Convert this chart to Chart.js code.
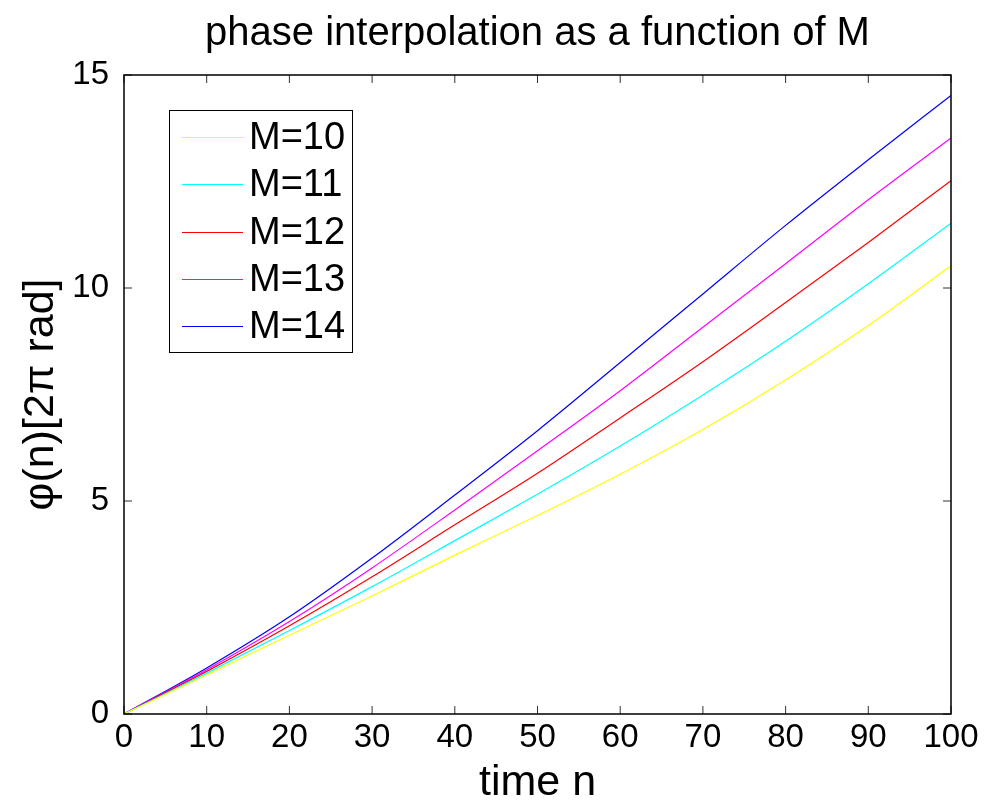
<!DOCTYPE html>
<html>
<head>
<meta charset="utf-8">
<script src="https://cdn.jsdelivr.net/npm/chart.js@4.4.1/dist/chart.umd.min.js"></script>
<style>
  html, body { margin: 0; padding: 0; background: #fff; }
  #wrap { width: 990px; height: 802px; }
</style>
</head>
<body>
<div id="wrap"><canvas id="myChart" width="990" height="802"></canvas></div>
<script>
// time samples (n) and phase values, in units of 2*pi rad
const timeN = [0, 10, 20, 30, 40, 50, 60, 70, 80, 90, 100];
const phaseM10 = [0, 0.92, 1.85, 2.77, 3.73, 4.66, 5.63, 6.68, 7.84, 9.12, 10.52];
const phaseM11 = [0, 0.96, 1.96, 2.99, 4.07, 5.16, 6.29, 7.49, 8.75, 10.10, 11.52];
const phaseM12 = [0, 1.00, 2.07, 3.22, 4.44, 5.65, 6.95, 8.27, 9.66, 11.07, 12.52];
const phaseM13 = [0, 1.04, 2.17, 3.43, 4.79, 6.18, 7.59, 9.08, 10.57, 12.07, 13.52];
const phaseM14 = [0, 1.08, 2.28, 3.66, 5.14, 6.65, 8.25, 9.86, 11.47, 13.01, 14.52];

const seriesLabels = ['M=10', 'M=11', 'M=12', 'M=13', 'M=14'];
const seriesColors = ['#ffff00', '#00ffff', '#ff0000', '#ff00ff', '#0000ff'];
const seriesValues = [phaseM10, phaseM11, phaseM12, phaseM13, phaseM14];

const FONT = "'Liberation Sans', Arial, Helvetica, sans-serif";

// MATLAB-like box with inward ticks on all four sides
const frameAndTicks = {
    id: 'frameAndTicks',
    afterDatasetsDraw(chart) {
        const { ctx, chartArea: a, scales: { x, y } } = chart;
        ctx.save();
        ctx.strokeStyle = '#333';
        ctx.lineWidth = 1;
        ctx.beginPath();
        x.ticks.forEach(t => {
            const px = x.getPixelForValue(t.value);
            ctx.moveTo(px, a.bottom); ctx.lineTo(px, a.bottom - 8);
            ctx.moveTo(px, a.top); ctx.lineTo(px, a.top + 8);
        });
        y.ticks.forEach(t => {
            const py = y.getPixelForValue(t.value);
            ctx.moveTo(a.left, py); ctx.lineTo(a.left + 8, py);
            ctx.moveTo(a.right, py); ctx.lineTo(a.right - 8, py);
        });
        ctx.stroke();
        ctx.strokeStyle = '#000';
        ctx.lineWidth = 1.5;
        ctx.strokeRect(a.left, a.top, a.right - a.left, a.bottom - a.top);
        ctx.restore();
    }
};

// legend box inside the axes, upper left
const boxLegend = {
    id: 'boxLegend',
    afterDraw(chart) {
        const { ctx, chartArea: a } = chart;
        const left = Math.round(a.left + 45), top = Math.round(a.top + 35), w = 183, h = 242;
        ctx.save();
        ctx.fillStyle = '#fff';
        ctx.fillRect(left, top, w, h);
        ctx.strokeStyle = '#000';
        ctx.lineWidth = 1;
        ctx.strokeRect(left + 0.5, top + 0.5, w, h);
        ctx.font = '38px ' + FONT;
        ctx.textBaseline = 'middle';
        chart.data.datasets.forEach((ds, i) => {
            const yy = Math.round(top + 27 + i * 47.25) + 0.5;
            ctx.strokeStyle = ds.borderColor;
            ctx.beginPath();
            ctx.moveTo(left + 13, yy);
            ctx.lineTo(left + 74, yy);
            ctx.stroke();
            ctx.fillStyle = '#000';
            ctx.fillText(ds.label, left + 80, yy + 1);
        });
        ctx.restore();
    }
};

const ctx = document.getElementById('myChart');
new Chart(ctx, {
    type: 'line',
    data: {
        datasets: seriesValues.map((vals, i) => ({
            label: seriesLabels[i],
            data: timeN.map((n, k) => ({ x: n, y: vals[k] })),
            borderColor: seriesColors[i],
            borderWidth: 1.2,
            pointRadius: 0,
            cubicInterpolationMode: 'monotone',
            fill: false
        }))
    },
    options: {
        responsive: false,
        animation: false,
        layout: { padding: { left: 0, right: 39, top: 0, bottom: 0 } },
        plugins: {
            legend: { display: false },
            tooltip: { enabled: false },
            title: {
                display: true,
                fullSize: false,
                text: 'phase interpolation as a function of M',
                color: '#000',
                font: { family: FONT, size: 40, weight: 'normal' },
                padding: { top: 10, bottom: 17 }
            }
        },
        scales: {
            x: {
                type: 'linear',
                min: 0,
                max: 100,
                ticks: { stepSize: 10, color: '#000', padding: -4, maxRotation: 0,
                         font: { family: FONT, size: 33 } },
                grid: { display: false },
                border: { display: false },
                title: { display: true, text: 'time n', color: '#000',
                         font: { family: FONT, size: 43, lineHeight: 1 }, padding: { top: 0, bottom: -3 } },
                afterFit(scale) { scale.height = 88; }
            },
            y: {
                min: 0,
                max: 15,
                ticks: { stepSize: 5, color: '#000', padding: 7,
                         font: { family: FONT, size: 33 } },
                grid: { display: false },
                border: { display: false },
                title: { display: true, text: 'φ(n)[2π rad]', color: '#000',
                         font: { family: FONT, size: 43, lineHeight: 1 }, padding: { top: 20, bottom: 0 } },
                afterFit(scale) { scale.width = 124; }
            }
        }
    },
    plugins: [frameAndTicks, boxLegend]
});
</script>
</body>
</html>
